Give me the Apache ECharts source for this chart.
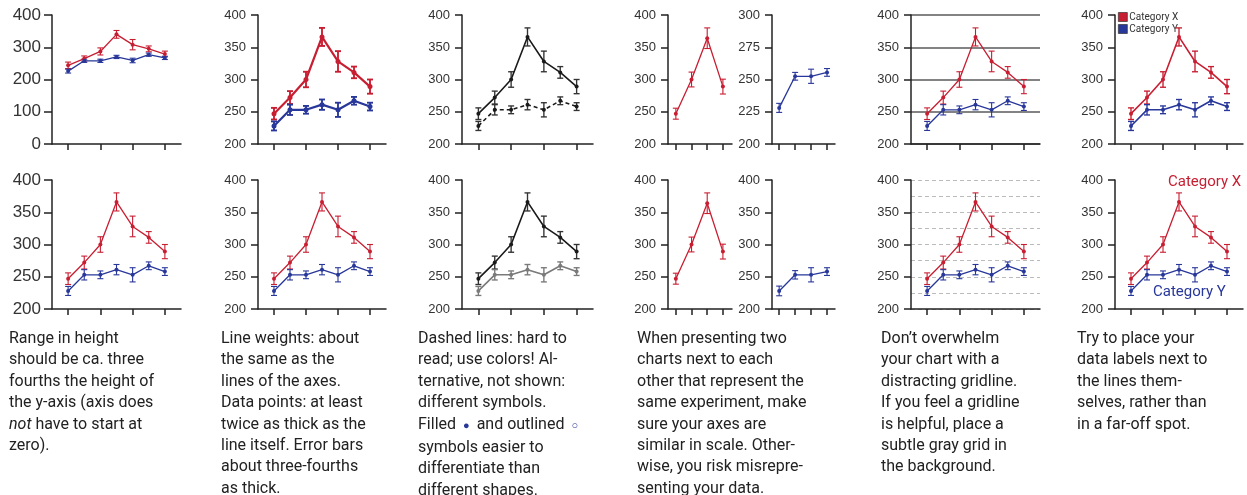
<!DOCTYPE html>
<html>
<head>
<meta charset="utf-8">
<script src="https://cdn.jsdelivr.net/npm/echarts@6/dist/echarts.min.js"></script>
<style>
  body { margin: 0; background: #fff; }
  #wrap { position: relative; width: 1247px; height: 495px; }
  #chart { position: absolute; left: 0; top: 0; width: 1247px; height: 495px; }
  .cap {
    position: absolute; top: 327px;
    font-family: Roboto, sans-serif; font-size: 16px; line-height: 21.4px;
    color: #222; white-space: nowrap;
  }
  .dot { color: #28379a; font-size: 11px; padding: 0 3px; }
</style>
</head>
<body>
<div id="wrap">
  <div id="chart"></div>
  <div class="cap" style="left:9px">Range in height<br>should be ca. three<br>fourths the height of<br>the y-axis (axis does<br><i>not</i> have to start at<br>zero).</div>
  <div class="cap" style="left:221px">Line weights: about<br>the same as the<br>lines of the axes.<br>Data points: at least<br>twice as thick as the<br>line itself. Error bars<br>about three-fourths<br>as thick.</div>
  <div class="cap" style="left:418px">Dashed lines: hard to<br>read; use colors! Al-<br>ternative, not shown:<br>different symbols.<br>Filled <span class="dot">&#9679;</span> and outlined <span class="dot">&#9675;</span><br>symbols easier to<br>differentiate than<br>different shapes.</div>
  <div class="cap" style="left:637px">When presenting two<br>charts next to each<br>other that represent the<br>same experiment, make<br>sure your axes are<br>similar in scale. Other-<br>wise, you risk misrepre-<br>senting your data.</div>
  <div class="cap" style="left:881px">Don’t overwhelm<br>your chart with a<br>distracting gridline.<br>If you feel a gridline<br>is helpful, place a<br>subtle gray grid in<br>the background.</div>
  <div class="cap" style="left:1077px">Try to place your<br>data labels next to<br>the lines them-<br>selves, rather than<br>in a far-off spot.</div>
</div>
<script>
// values
const X_VALS = [247, 272, 300, 366, 328, 311, 289];
const X_ERR = [9, 10, 12, 14, 16, 9, 11];
const Y_VALS = [228, 253, 253, 261, 253, 267, 258];
const Y_ERR = [7, 8, 6, 8, 11, 6, 6];

// first panel (axis from zero)
const ZERO_X_VALS = [244, 265, 287, 340, 308, 295, 279];
const ZERO_X_ERR = [10, 8, 11, 12, 16, 9, 9];
const ZERO_Y_VALS = [226, 258, 258, 270, 259, 277, 267];
const ZERO_Y_ERR = [6, 5, 5, 5, 7, 5, 5];

// side by side panels
const PAIR_X_VALS = [247, 300, 364, 289];
const PAIR_X_ERR = [8.5, 11.5, 16, 11.5];
const PAIR_Y_TOP_VALS = [228, 252.5, 252.5, 255.5];
const PAIR_Y_TOP_ERR = [3.5, 3, 5.5, 3];
const PAIR_Y_VALS = [228, 253, 253, 258];
const PAIR_Y_ERR = [7.5, 6.5, 11, 6];

const SEVEN_TICKS = [1, 3, 5, 7];
const FOUR_TICKS = [1, 2, 3, 4];

const RED = '#c81e32';
const BLUE = '#28379a';
const BLACK = '#1a1a1a';
const GRAY = '#7a7a7a';
const AXIS = '#222';

var chart = echarts.init(document.getElementById('chart'));

var grids = [], xAxes = [], yAxes = [], series = [];

function errRender(color, width) {
    return function(params, api) {
        var x = api.value(0);
        var a = api.coord([x, api.value(1)]);
        var b = api.coord([x, api.value(2)]);
        var w = 3;
        var st = { stroke: color, lineWidth: width };
        return {
            type: 'group',
            children: [
                { type: 'line', shape: { x1: a[0], y1: a[1], x2: b[0], y2: b[1] }, style: st },
                { type: 'line', shape: { x1: a[0] - w, y1: a[1], x2: a[0] + w, y2: a[1] }, style: st },
                { type: 'line', shape: { x1: b[0] - w, y1: b[1], x2: b[0] + w, y2: b[1] }, style: st }
            ]
        };
    };
}

function panel(p) {
    var gi = grids.length;
    grids.push({ left: p.l, top: p.t, width: p.r - p.l, height: p.b - p.t });
    xAxes.push({
        type: 'value', gridIndex: gi, min: p.xMin, max: p.xMax,
        axisLine: { show: true, onZero: false, lineStyle: { color: AXIS, width: 1.5 } },
        axisTick: { show: true, length: 6, customValues: p.xTicks, lineStyle: { color: AXIS, width: 1.5 } },
        axisLabel: { show: false },
        splitLine: { show: false }
    });
    var y = {
        type: 'value', gridIndex: gi, min: p.yMin, max: p.yMax, interval: p.yInt,
        axisLine: { show: true, onZero: false, lineStyle: { color: AXIS, width: 1.5 } },
        axisTick: { show: true, length: p.tick || 7, lineStyle: { color: AXIS, width: 1.5 } },
        axisLabel: {
            fontSize: p.font || 13, color: '#333', margin: p.margin || 12,
            fontFamily: 'Liberation Sans'
        },
        splitLine: { show: false }
    };
    if (p.grid === 'solid') {
        y.splitLine = { show: true, lineStyle: { color: '#5a5a5a', width: 1.5 } };
    }
    if (p.grid === 'dashed') {
        y.splitLine = { show: true, lineStyle: { color: '#bbb', width: 1, type: [4, 3] } };
        y.minorTick = { show: false, splitNumber: 2 };
        y.minorSplitLine = { show: true, lineStyle: { color: '#bbb', width: 1, type: [4, 3] } };
    }
    yAxes.push(y);

    p.lines.forEach(function(s) {
        var pts = s.vals.map(function(v, i) { return [i + 1, v]; });
        var bars = s.vals.map(function(v, i) { return [i + 1, v - s.err[i], v + s.err[i]]; });
        series.push({
            type: 'custom', name: s.name, xAxisIndex: gi, yAxisIndex: gi,
            renderItem: errRender(s.barColor || s.color, s.width * 0.85),
            encode: { x: 0, y: [1, 2] },
            data: bars, silent: true, z: 2
        });
        series.push({
            type: 'line', name: s.name, xAxisIndex: gi, yAxisIndex: gi,
            data: pts, symbol: 'circle', symbolSize: s.sym || 4,
            itemStyle: { color: s.color },
            lineStyle: { color: s.color, width: s.width, type: s.dash || 'solid' },
            silent: true, z: 3
        });
    });
}

var ROWS = [{ t: 15, b: 144 }, { t: 180, b: 309 }];

ROWS.forEach(function(row, ri) {
    var top = ri === 0;
    var std = [
        { name: 'x' + ri, vals: X_VALS, err: X_ERR, color: RED, width: 1.3 },
        { name: 'y' + ri, vals: Y_VALS, err: Y_ERR, color: BLUE, width: 1.3 }
    ];
    // column 1
    panel({
        l: 52, r: 181, t: row.t, b: row.b, xMin: 0, xMax: 8, xTicks: SEVEN_TICKS,
        yMin: top ? 0 : 200, yMax: 400, yInt: top ? 100 : 50, font: 17, margin: 11, tick: 8,
        lines: top ? [
            { name: 'x', vals: ZERO_X_VALS, err: ZERO_X_ERR, color: RED, width: 1.3 },
            { name: 'y', vals: ZERO_Y_VALS, err: ZERO_Y_ERR, color: BLUE, width: 1.3 }
        ] : std
    });
    // column 2
    panel({
        l: 258, r: 386, t: row.t, b: row.b, xMin: 0, xMax: 8, xTicks: SEVEN_TICKS,
        yMin: 200, yMax: 400, yInt: 50,
        lines: top ? [
            { name: 'x', vals: X_VALS, err: X_ERR, color: RED, width: 2.2, sym: 5 },
            { name: 'y', vals: Y_VALS, err: Y_ERR, color: BLUE, width: 2.2, sym: 5 }
        ] : std
    });
    // column 3
    panel({
        l: 462, r: 593, t: row.t, b: row.b, xMin: 0, xMax: 8, xTicks: SEVEN_TICKS,
        yMin: 200, yMax: 400, yInt: 50,
        lines: [
            { name: 'k', vals: X_VALS, err: X_ERR, color: BLACK, width: 1.6, barColor: '#333' },
            top ? { name: 'kd', vals: Y_VALS, err: Y_ERR, color: BLACK, width: 1.6, dash: [4, 3], barColor: '#333' }
                : { name: 'g', vals: Y_VALS, err: Y_ERR, color: GRAY, width: 1.6 }
        ]
    });
    // column 4, two charts side by side
    panel({
        l: 668, r: 732, t: row.t, b: row.b, xMin: 0.5, xMax: 4.58, xTicks: FOUR_TICKS,
        yMin: 200, yMax: 400, yInt: 50,
        lines: [{ name: 'x', vals: PAIR_X_VALS, err: PAIR_X_ERR, color: RED, width: 1.3 }]
    });
    panel({
        l: 772, r: 835, t: row.t, b: row.b, xMin: 0.55, xMax: 4.5, xTicks: FOUR_TICKS,
        yMin: 200, yMax: top ? 300 : 400, yInt: top ? 25 : 50,
        lines: [top
            ? { name: 'y', vals: PAIR_Y_TOP_VALS, err: PAIR_Y_TOP_ERR, color: BLUE, width: 1.3 }
            : { name: 'y', vals: PAIR_Y_VALS, err: PAIR_Y_ERR, color: BLUE, width: 1.3 }]
    });
    // column 5
    panel({
        l: 911, r: 1040, t: row.t, b: row.b, xMin: 0, xMax: 8, xTicks: SEVEN_TICKS,
        yMin: 200, yMax: 400, yInt: 50, grid: top ? 'solid' : 'dashed',
        lines: std
    });
    // column 6
    panel({
        l: 1115, r: 1243, t: row.t, b: row.b, xMin: 0, xMax: 8, xTicks: SEVEN_TICKS,
        yMin: 200, yMax: 400, yInt: 50,
        lines: top ? [
            { name: 'Category X', vals: X_VALS, err: X_ERR, color: RED, width: 1.6 },
            { name: 'Category Y', vals: Y_VALS, err: Y_ERR, color: BLUE, width: 1.6 }
        ] : std
    });
});

var option = {
    animation: false,
    grid: grids,
    xAxis: xAxes,
    yAxis: yAxes,
    legend: {
        data: [
            { name: 'Category X', icon: 'rect', itemStyle: { color: RED, borderColor: '#333', borderWidth: 0.7 } },
            { name: 'Category Y', icon: 'rect', itemStyle: { color: BLUE, borderColor: '#333', borderWidth: 0.7 } }
        ],
        orient: 'vertical', left: 1118, top: 12, padding: 0,
        itemWidth: 9, itemHeight: 9, itemGap: 2, selectedMode: false,
        textStyle: { fontSize: 10, color: '#333', fontFamily: 'Roboto', padding: [0, 0, 0, -3] }
    },
    graphic: [
        { type: 'text', left: 1168, top: 175, style: { text: 'Category X', fill: RED, font: '15px Roboto' } },
        { type: 'text', left: 1153, top: 285, style: { text: 'Category Y', fill: BLUE, font: '15px Roboto' } }
    ],
    series: series
};

chart.setOption(option);
</script>
</body>
</html>
